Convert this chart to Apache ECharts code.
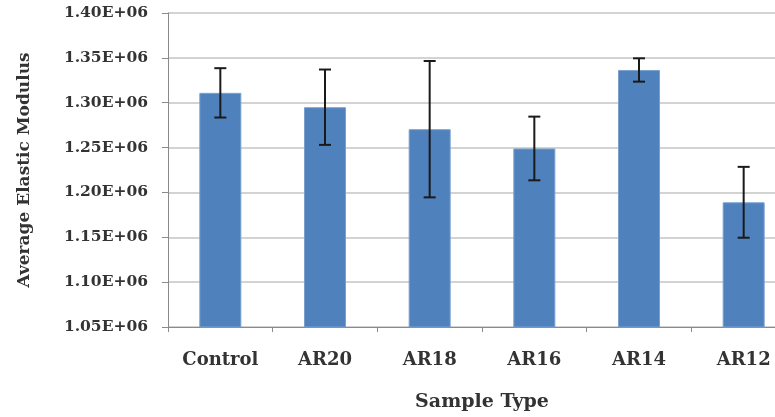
<!DOCTYPE html>
<html>
<head>
<meta charset="utf-8">
<script src="https://cdn.jsdelivr.net/npm/echarts@6/dist/echarts.min.js"></script>
<style>
html,body{margin:0;padding:0;background:#fff;overflow:hidden;width:775px;height:417px;}
#chart{width:800px;height:417px;}
</style>
</head>
<body>
<div id="chart"></div>
<script>
const categories = ['Control', 'AR20', 'AR18', 'AR16', 'AR14', 'AR12'];
const meanValues = [1311000, 1295000, 1270500, 1249000, 1336500, 1189000];
const errorValues = [27500, 42000, 76000, 35500, 13000, 39500];
const yTicks = { min: 1050000, max: 1400000, interval: 50000 };

const FONT = '"DejaVu Serif", "Liberation Serif", serif';
const chart = echarts.init(document.getElementById('chart'), null, {renderer: 'canvas'});

const errData = categories.map((c, i) => [i, meanValues[i] - errorValues[i], meanValues[i] + errorValues[i]]);

chart.setOption({
  animation: false,
  backgroundColor: '#ffffff',
  grid: { left: 168, top: 13, width: 628, height: 317, containLabel: false },
  xAxis: {
    type: 'category',
    data: categories,
    name: 'Sample Type',
    nameLocation: 'middle',
    nameGap: 66,
    nameTextStyle: { fontFamily: FONT, fontWeight: 'bold', fontSize: 19, color: '#333' },
    axisLine: { lineStyle: { color: '#8a8a8a', width: 1 } },
    axisTick: { show: true, length: 5, lineStyle: { color: '#8a8a8a' } },
    axisLabel: { fontFamily: FONT, fontWeight: 'bold', fontSize: 18, color: '#333', margin: 24 }
  },
  yAxis: {
    type: 'value',
    min: yTicks.min, max: yTicks.max, interval: yTicks.interval,
    name: 'Average Elastic Modulus',
    nameLocation: 'middle',
    nameGap: 135,
    nameTextStyle: { fontFamily: FONT, fontWeight: 'bold', fontSize: 17, color: '#333' },
    axisLine: { show: true, lineStyle: { color: '#8a8a8a', width: 1 } },
    axisTick: { show: true, length: 6, lineStyle: { color: '#8a8a8a' } },
    splitLine: { show: true, lineStyle: { color: '#c4c4c4', width: 1.5 } },
    axisLabel: {
      fontFamily: FONT, fontWeight: 'bold', fontSize: 15.5, color: '#333', margin: 20,
      formatter: v => (v / 1e6).toFixed(2) + 'E+06'
    }
  },
  series: [
    {
      type: 'bar',
      data: meanValues,
      barWidth: 42,
      itemStyle: { color: '#4f81bd', borderColor: '#7aa0d0', borderWidth: 1 },
      z: 2
    },
    {
      type: 'custom',
      data: errData,
      z: 5,
      renderItem: function (params, api) {
        const x = api.value(0);
        const lo = api.coord([x, api.value(1)]);
        const hi = api.coord([x, api.value(2)]);
        const cap = 6;
        const style = { stroke: '#1a1a1a', lineWidth: 2 };
        return {
          type: 'group',
          children: [
            { type: 'line', shape: { x1: hi[0], y1: hi[1], x2: lo[0], y2: lo[1] }, style: style },
            { type: 'line', shape: { x1: hi[0] - cap, y1: hi[1], x2: hi[0] + cap, y2: hi[1] }, style: style },
            { type: 'line', shape: { x1: lo[0] - cap, y1: lo[1], x2: lo[0] + cap, y2: lo[1] }, style: style }
          ]
        };
      }
    }
  ]
});
</script>
</body>
</html>
